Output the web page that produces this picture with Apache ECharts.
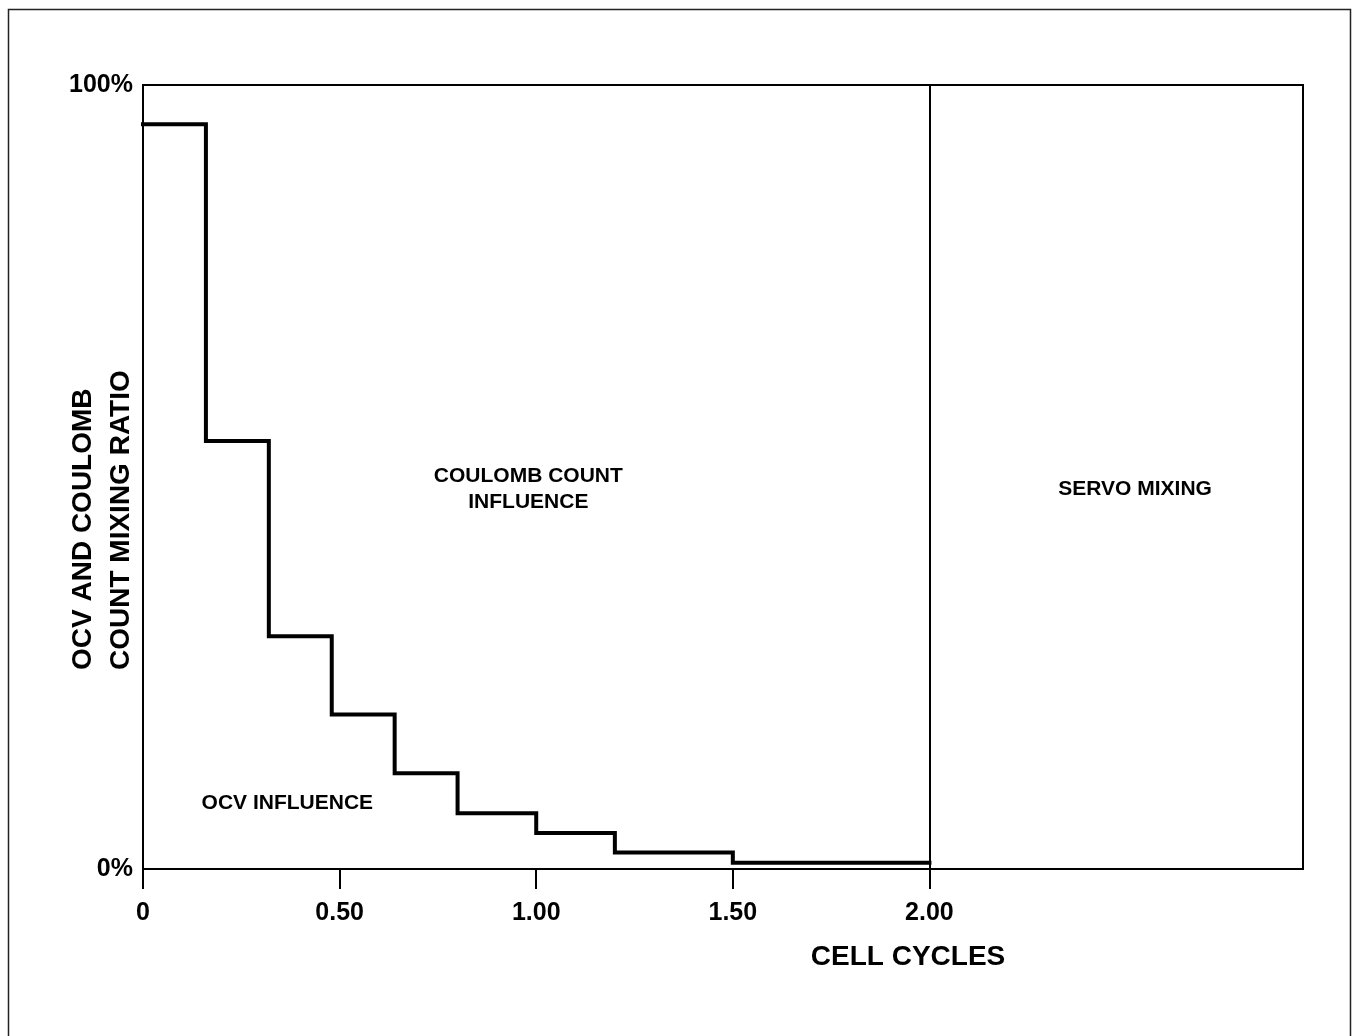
<!DOCTYPE html>
<html>
<head>
<meta charset="utf-8">
<script src="https://cdn.jsdelivr.net/npm/echarts@6/dist/echarts.min.js"></script>
<style>
  html, body { margin: 0; padding: 0; background: #fff; }
  #chart { width: 1353px; height: 1036px; }
</style>
</head>
<body>
<div id="chart"></div>
<script>
// step curve: cycle where each step starts, mixing ratio (%)
const cycles = [0, 0.16, 0.32, 0.48, 0.64, 0.80, 1.00, 1.20, 1.50, 2.00];
const ratio = [95.0, 54.6, 29.7, 19.7, 12.2, 7.1, 4.6, 2.1, 0.8, 0.8];
const xTicks = [0, 0.5, 1.0, 1.5, 2.0];
const yTicks = [0, 100];
const servoStart = 2.0;

// region notes (data coords)
const noteText = ["COULOMB COUNT\nINFLUENCE", "SERVO MIXING", "OCV INFLUENCE"];
const noteX = [0.98, 2.523, 0.367];
const noteY = [48.4, 48.4, 8.4];

const FONT = '"Liberation Sans", Arial, Helvetica, sans-serif';

const chart = echarts.init(document.getElementById("chart"));

chart.setOption({
  animation: false,
  backgroundColor: "#fff",
  grid: {
    left: 143, right: 50, top: 85, bottom: 167,
    show: true, borderColor: "#000", borderWidth: 2
  },
  xAxis: {
    type: "value",
    min: 0, max: 2.95, interval: 0.5,
    splitLine: { show: false },
    axisLine: { lineStyle: { color: "#000", width: 2 } },
    axisTick: {
      customValues: xTicks, length: 20,
      lineStyle: { color: "#000", width: 2 }
    },
    axisLabel: {
      customValues: xTicks, margin: 32,
      color: "#000", fontFamily: FONT, fontWeight: "bold", fontSize: 25,
      formatter: v => v === 0 ? "0" : v.toFixed(2)
    }
  },
  yAxis: {
    type: "value",
    min: 0, max: 100,
    splitLine: { show: false },
    axisLine: { show: true, lineStyle: { color: "#000", width: 2 } },
    axisTick: { show: false },
    axisLabel: {
      customValues: yTicks, margin: 10,
      color: "#000", fontFamily: FONT, fontWeight: "bold", fontSize: 25,
      padding: [14, 0, 0, 0],
      formatter: v => v + "%"
    }
  },
  series: [
    {
      name: "mixing",
      type: "line",
      step: "end",
      symbol: "none",
      data: cycles.map((c, i) => [c, ratio[i]]),
      lineStyle: { color: "#000", width: 4, join: "miter", cap: "square" },
      markLine: {
        silent: true,
        symbol: ["none", "none"],
        label: { show: false },
        lineStyle: { color: "#000", width: 2, type: "solid" },
        data: [{ xAxis: servoStart }]
      }
    },
    {
      name: "notes",
      type: "scatter",
      symbolSize: 0,
      silent: true,
      itemStyle: { opacity: 1, color: "#000" },
      data: noteText.map((t, i) => ({ value: [noteX[i], noteY[i]], name: t })),
      label: {
        show: true, position: "inside",
        formatter: p => p.name,
        color: "#000", textBorderWidth: 0, opacity: 1,
        fontFamily: FONT, fontWeight: "bold", fontSize: 21,
        lineHeight: 26, align: "center"
      }
    }
  ],
  graphic: [
    {
      type: "rect", silent: true,
      shape: { x: 8.5, y: 9.5, width: 1342, height: 1100 },
      style: { fill: null, stroke: "#222", lineWidth: 1.5 }
    },
    {
      type: "text", silent: true,
      x: 908, y: 957,
      style: {
        text: "CELL CYCLES", fill: "#000",
        fontFamily: FONT, fontWeight: "bold", fontSize: 28,
        align: "center", verticalAlign: "middle"
      }
    },
    {
      type: "text", silent: true,
      x: 102, y: 670, rotation: Math.PI / 2,
      style: {
        text: "OCV AND COULOMB\nCOUNT MIXING RATIO", fill: "#000",
        fontFamily: FONT, fontWeight: "bold", fontSize: 28, lineHeight: 38,
        align: "left", verticalAlign: "middle"
      }
    }
  ]
});
</script>
</body>
</html>
